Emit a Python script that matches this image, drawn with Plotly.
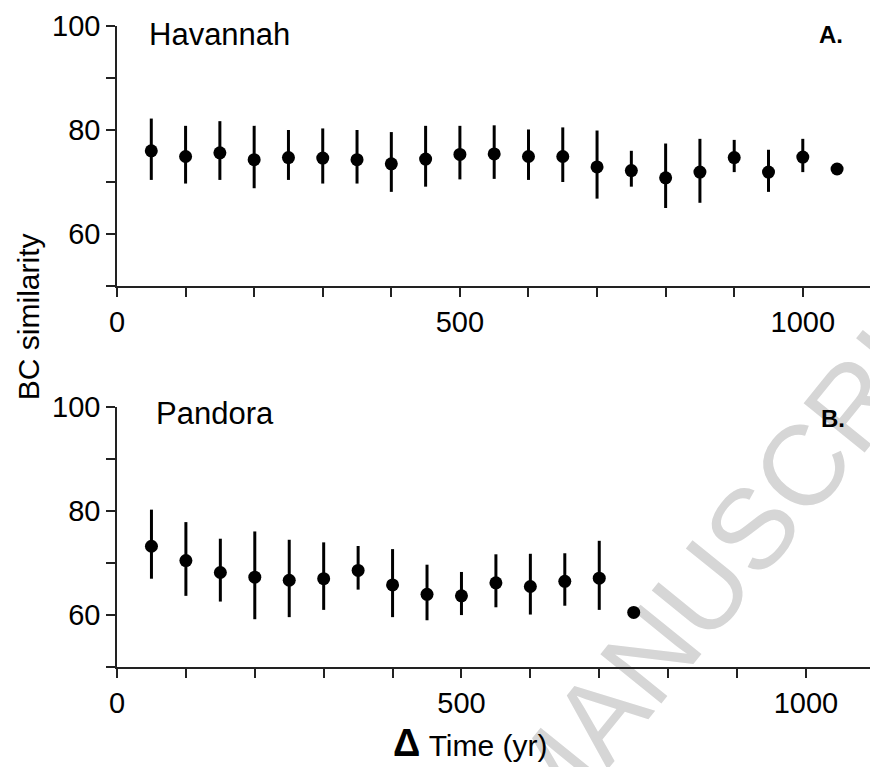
import plotly.graph_objects as go

# ---- data ----
hav_x = [50, 100, 150, 200, 250, 300, 350, 400, 450, 500, 550,
         600, 650, 700, 750, 800, 850, 900, 950, 1000, 1050]
hav_y = [76.0, 74.9, 75.6, 74.3, 74.7, 74.6, 74.3, 73.5, 74.4, 75.3, 75.4,
         74.9, 74.9, 72.9, 72.2, 70.8, 71.9, 74.7, 71.9, 74.8, 72.5]
hav_hi = [82.2, 80.8, 81.7, 80.8, 80.0, 80.3, 80.0, 79.6, 80.8, 80.8, 80.9,
          80.1, 80.5, 79.9, 76.0, 77.4, 78.3, 78.1, 76.2, 78.3, 72.5]
hav_lo = [70.4, 69.7, 70.4, 68.8, 70.4, 69.7, 69.7, 68.1, 69.1, 70.5, 70.6,
          70.4, 70.0, 66.8, 69.1, 65.0, 66.0, 71.9, 68.1, 71.9, 72.5]

pan_x = [50, 100, 150, 200, 250, 300, 350, 400, 450, 500, 550, 600, 650, 700, 750]
pan_y = [73.25, 70.5, 68.2, 67.3, 66.7, 67.0, 68.6, 65.8, 64.0, 63.7, 66.2, 65.5, 66.5, 67.1, 60.5]
pan_hi = [80.3, 77.9, 74.7, 76.1, 74.5, 74.0, 73.3, 72.7, 69.7, 68.3, 71.7, 71.8, 71.9, 74.3, 60.5]
pan_lo = [67.0, 63.7, 62.6, 59.2, 59.6, 61.0, 64.9, 59.6, 59.0, 60.0, 61.5, 60.1, 61.8, 61.0, 60.5]

FONT = "Liberation Sans, Arial, Helvetica, sans-serif"


def trace(x, y, hi, lo, xa, ya):
    return go.Scatter(
        x=x, y=y, mode="markers", xaxis=xa, yaxis=ya, showlegend=False,
        marker=dict(size=13, color="black"),
        error_y=dict(type="data", symmetric=False,
                     array=[h - v for h, v in zip(hi, y)],
                     arrayminus=[v - l for v, l in zip(y, lo)],
                     width=0, thickness=3, color="black"),
        cliponaxis=False,
    )


fig = go.Figure()
fig.add_trace(trace(hav_x, hav_y, hav_hi, hav_lo, "x", "y"))
fig.add_trace(trace(pan_x, pan_y, pan_hi, pan_lo, "x2", "y2"))

axis_common = dict(showline=True, linecolor="#222", linewidth=1.5,
                   ticks="outside", ticklen=9, tickwidth=1.5, tickcolor="#222",
                   showgrid=False, zeroline=False,
                   tickfont=dict(family=FONT, size=29, color="black"))

xa = dict(axis_common, tick0=0, dtick=500,
          minor=dict(dtick=100, ticks="outside", ticklen=9, tickwidth=1.5, tickcolor="#222"))
ya = dict(axis_common, tick0=0, dtick=20,
          minor=dict(dtick=10, ticks="outside", ticklen=9, tickwidth=1.5, tickcolor="#222"))

fig.update_layout(
    width=870, height=767,
    margin=dict(l=117, r=0, t=26, b=100),
    plot_bgcolor="white", paper_bgcolor="white",
    xaxis=dict(xa, domain=[0, 1], range=[0, 1098], anchor="y"),
    yaxis=dict(ya, domain=[0.5944, 1], range=[50, 100], anchor="x"),
    xaxis2=dict(xa, domain=[0, 1], range=[0, 1093], anchor="y2"),
    yaxis2=dict(ya, domain=[0, 0.4051], range=[50, 100], anchor="x2"),
    font=dict(family=FONT, color="black"),
)

ann = [
    dict(text="Havannah", x=0.0405, y=0.987, xanchor="left", yanchor="middle",
         font=dict(size=31)),
    dict(text="Pandora", x=0.0495, y=0.3947, xanchor="left", yanchor="middle",
         font=dict(size=31)),
    dict(text="<b>A.</b>", x=0.9668, y=0.987, xanchor="right", yanchor="middle",
         font=dict(size=24)),
    dict(text="<b>B.</b>", x=0.969, y=0.387, xanchor="right", yanchor="middle",
         font=dict(size=24)),
    dict(text="BC similarity", x=-0.118, y=0.546, textangle=-90,
         xanchor="center", yanchor="middle", font=dict(size=30)),
    dict(text="<b><span style='font-size:38px'>Δ</span></b> Time (yr)", x=0.470, y=-0.1186,
         xanchor="center", yanchor="middle", font=dict(size=30)),
]
for a in ann:
    a.update(xref="paper", yref="paper", showarrow=False)
    a["font"] = dict(a["font"], family=FONT, color="black")
fig.update_layout(annotations=ann)

# watermark behind the data
fig.add_shape(type="rect", xref="paper", yref="paper",
              x0=0.833, x1=0.837, y0=0.229, y1=0.233,
              line=dict(width=0), fillcolor="rgba(0,0,0,0)", layer="below",
              label=dict(text="MANUSCRIPT", textangle=-51, textposition="middle center",
                         font=dict(family=FONT, size=114, color="#d6d6d6")))

fig.write_html("out.html")
